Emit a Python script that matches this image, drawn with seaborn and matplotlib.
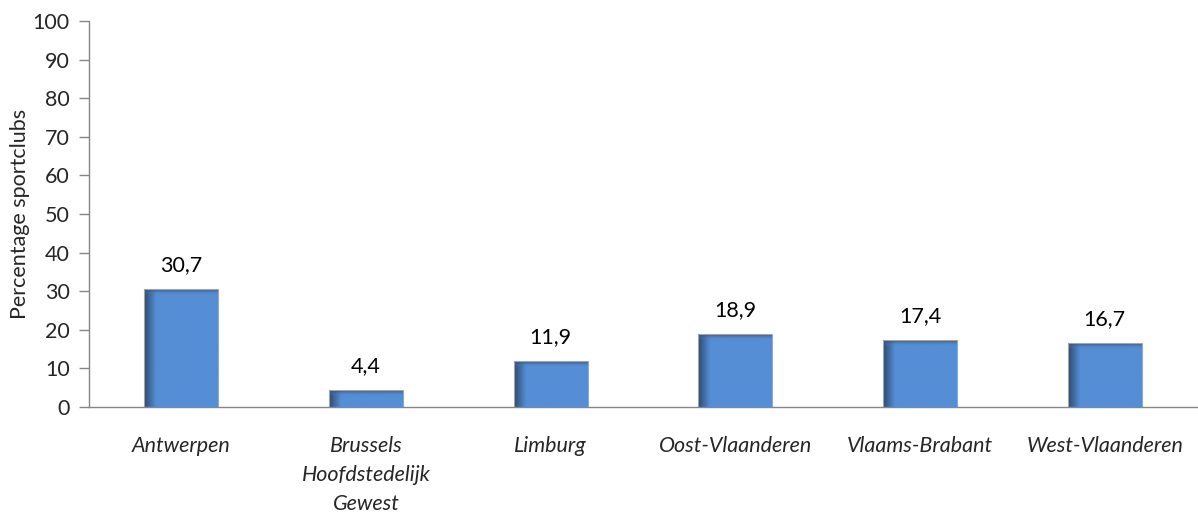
import matplotlib
matplotlib.use("Agg")
import matplotlib.pyplot as plt
import seaborn as sns
import numpy as np
import pandas as pd
from matplotlib.colors import LinearSegmentedColormap

categories = ["Antwerpen", "Brussels\nHoofdstedelijk\nGewest", "Limburg",
              "Oost-Vlaanderen", "Vlaams-Brabant", "West-Vlaanderen"]
values = [30.7, 4.4, 11.9, 18.9, 17.4, 16.7]
value_labels = ["30,7", "4,4", "11,9", "18,9", "17,4", "16,7"]
yticks = [0, 10, 20, 30, 40, 50, 60, 70, 80, 90, 100]

sns.set_theme(style="white")
plt.rcParams['font.family'] = ['Lato', 'DejaVu Sans']
FS = 15.5

fig = plt.figure(figsize=(11.98, 5.14), dpi=100)
ax = fig.add_axes([0.0743, 0.208, 0.925, 0.751])

df = pd.DataFrame({"cat": categories, "val": values})
sns.barplot(data=df, x="cat", y="val", color="#558ED5", width=0.4,
            saturation=1, edgecolor="#9aa6b4", linewidth=0.8, ax=ax)

# gradient shading on bars
cmap_h = LinearSegmentedColormap.from_list("h", [(0, "#2c4a73"), (0.16, "#558ED5"), (1, "#558ED5")])
cmap_v = LinearSegmentedColormap.from_list("v", [(0, (0.33, 0.56, 0.84, 0.0)), (1, (0.13, 0.22, 0.36, 0.95))])
for p in ax.patches:
    x0, y0 = p.get_x(), p.get_y()
    w, h = p.get_width(), p.get_height()
    grad = np.linspace(0, 1, 200).reshape(1, -1)
    im = ax.imshow(grad, cmap=cmap_h, aspect="auto",
                   extent=[x0, x0 + w, y0, y0 + h], zorder=p.get_zorder() + 0.1,
                   vmin=0, vmax=1)
    im.set_clip_path(p)
    band = min(1.6, h * 0.4)
    gv = np.linspace(1, 0, 50).reshape(-1, 1)
    im2 = ax.imshow(gv, cmap=cmap_v, aspect="auto",
                    extent=[x0, x0 + w, y0 + h - band, y0 + h], zorder=p.get_zorder() + 0.2,
                    vmin=0, vmax=1)
    im2.set_clip_path(p)
    p.set_zorder(p.get_zorder() + 0.3)
    p.set_facecolor("none")

for i, (v, lab) in enumerate(zip(values, value_labels)):
    ax.text(i, v + 3.6, lab, ha="center", va="bottom", fontsize=FS, color="black")

ax.set_xlim(-0.5, len(categories) - 0.5)
ax.set_ylim(0, 100)
ax.set_yticks(yticks)
ax.set_yticklabels([str(t) for t in yticks], fontsize=FS)
ax.set_xticks(range(len(categories)))
ax.set_xticklabels(categories, fontsize=FS, style="italic", linespacing=1.55, va="top")
ax.set_xticks(np.arange(-0.5, len(categories)), minor=True)
ax.tick_params(axis="x", which="major", length=0, pad=21)
ax.tick_params(axis="x", which="minor", length=6, direction="out", color="#868686", width=1)
ax.tick_params(axis="y", length=7, direction="out", color="#868686", width=1, pad=7, left=True)
ax.set_xlabel("")
ax.set_ylabel("Percentage sportclubs", fontsize=FS, labelpad=2)

for s in ["top", "right"]:
    ax.spines[s].set_visible(False)
for s in ["left", "bottom"]:
    ax.spines[s].set_color("#868686")
    ax.spines[s].set_linewidth(1)

fig.savefig("out.png", dpi=100)
